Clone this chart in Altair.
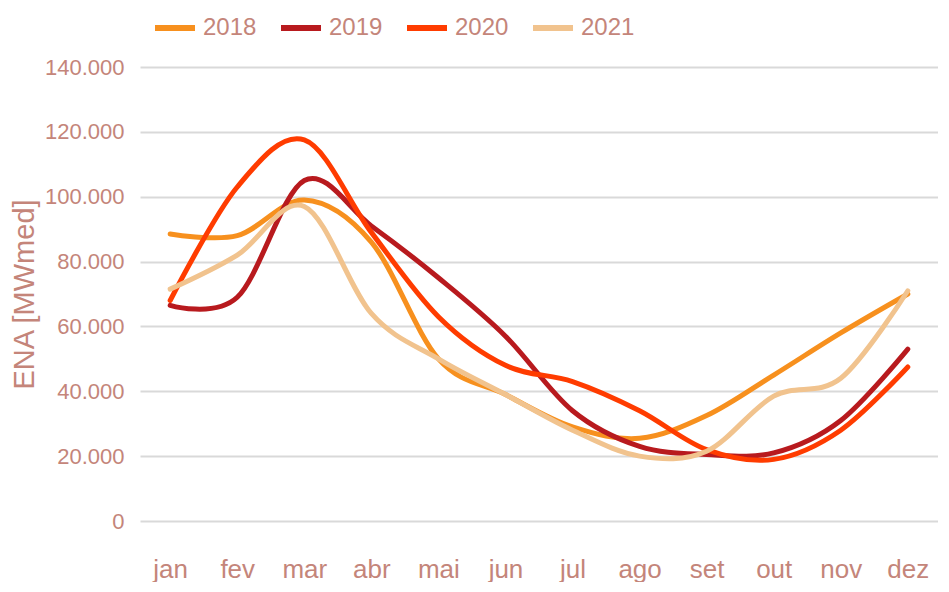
import altair as alt
import pandas as pd

months = ["jan", "fev", "mar", "abr", "mai", "jun", "jul", "ago", "set", "out", "nov", "dez"]
years = ["2018", "2019", "2020", "2021"]
ena_2018 = [88500, 88000, 99000, 86000, 50000, 39000, 29000, 25500, 32500, 45000, 58000, 70000]
ena_2019 = [66500, 69000, 105000, 91000, 75000, 57000, 34000, 23000, 20500, 21000, 31000, 53000]
ena_2020 = [68000, 103000, 117500, 89000, 63000, 48000, 43000, 34000, 22000, 19000, 28000, 47500]
ena_2021 = [71500, 82000, 97000, 64000, 50000, 39000, 28000, 20000, 21500, 38500, 44000, 71000]
colors = ["#F7901E", "#B81A1E", "#FF3C00", "#F1C38E"]

series = {"2018": ena_2018, "2019": ena_2019, "2020": ena_2020, "2021": ena_2021}
rows = []
for y in years:
    for m, v in zip(months, series[y]):
        rows.append({"mes": m, "ano": y, "ena": v})
df = pd.DataFrame(rows)

text_color = "#C4857A"
font = "Liberation Sans"

chart = alt.Chart(df).mark_line(interpolate="cardinal", strokeWidth=5, strokeCap="round").encode(
    x=alt.X("mes:N", sort=months, scale=alt.Scale(type="point", padding=0.45),
            axis=alt.Axis(title=None, labelAngle=0, labelFont=font, labelFontSize=26,
                          labelColor=text_color, ticks=False, domain=False, grid=False,
                          labelPadding=35)),
    y=alt.Y("ena:Q", scale=alt.Scale(domain=[0, 140000]),
            axis=alt.Axis(title="ENA [MWmed]", titleColor=text_color, titleFont=font,
                          titleFontSize=29, titleFontWeight="normal", titlePadding=5,
                          values=[0, 20000, 40000, 60000, 80000, 100000, 120000, 140000],
                          labelExpr="datum.value == 0 ? '0' : format(datum.value/1000, 'd') + '.000'",
                          labelFont=font, labelFontSize=22, labelColor=text_color,
                          ticks=False, domain=False, labelPadding=16,
                          gridColor="#D9D9D9", gridWidth=2)),
    color=alt.Color("ano:N", scale=alt.Scale(domain=years, range=colors),
                    legend=alt.Legend(title=None, orient="none", direction="horizontal",
                                      legendX=12, legendY=-62, symbolType="stroke",
                                      symbolSize=1600, symbolStrokeWidth=6,
                                      labelFont=font, labelFontSize=24, labelColor=text_color,
                                      labelOffset=5, columnPadding=12)),
).properties(
    width=798, height=454,
    padding={"top": -3, "left": 2, "right": 0, "bottom": 0},
).configure_view(stroke=None)

chart.save("out.html", embed_options={"renderer": "svg", "actions": False})
